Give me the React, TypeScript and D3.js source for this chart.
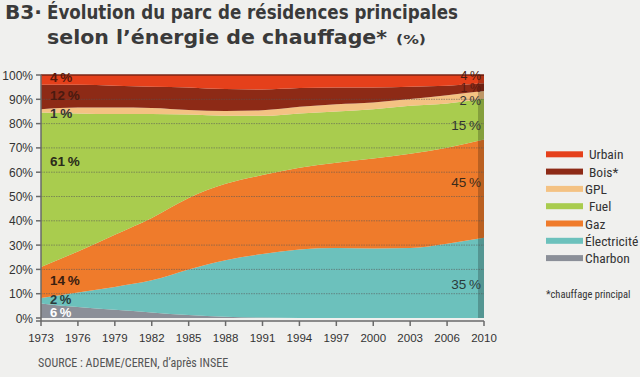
import React from "react";
import * as d3 from "d3";

const years = ["1973", "1976", "1979", "1982", "1985", "1988", "1991", "1994", "1997", "2000", "2003", "2006", "2010"];
const charbon = [6, 4.5, 3.4, 2.3, 1.2, 0.5, 0.2, 0, 0, 0, 0, 0, 0];
const electricite = [2.2, 6, 9.4, 13.2, 18.8, 23.3, 26.1, 28.2, 28.8, 28.6, 28.8, 30.6, 33];
const gaz = [12.8, 16.9, 21.5, 25.7, 29.4, 31.4, 32.5, 33.6, 35.1, 37, 38.8, 39.5, 40.5];
const fuel = [63.6, 56.8, 49.6, 42.7, 34.3, 28, 24.4, 22.4, 21.1, 20.3, 19.7, 18.2, 16.8];
const gpl = [1.3, 2.4, 2.7, 2.5, 1.9, 2, 2.3, 2.7, 3, 2.8, 2.8, 3.4, 3.1];
const bois = [10.1, 9.4, 9.0, 8.8, 9.3, 9.0, 8.5, 7.7, 6.9, 6.2, 5.1, 3.9, 3.2];
const urbain = [4, 4, 4.4, 4.8, 5.1, 5.8, 6, 5.4, 5.1, 5.1, 4.8, 4.4, 3.4];

const seriesNames = ["Charbon", "Électricité", "Gaz", "Fuel", "GPL", "Bois*", "Urbain"];
const seriesValues = [charbon, electricite, gaz, fuel, gpl, bois, urbain];
const seriesColors = ["#8b8f98", "#6cc1bc", "#ef7b2b", "#a9cc4e", "#f4c283", "#8d2a16", "#e5401b"];

const legendOrder = ["Urbain", "Bois*", "GPL", "Fuel", "Gaz", "Électricité", "Charbon"];
const legendIndent = [true, true, false, true, false, false, false];

const yTicks = [0, 10, 20, 30, 40, 50, 60, 70, 80, 90, 100];
const gridValues = [10, 20, 30, 40, 50, 60, 70, 80, 90];

const leftLabels = [
  { text: "4\u2009%", at: 98.8, color: "#5a1a0c", size: 13.5 },
  { text: "12\u2009%", at: 91.4, color: "#4a1a10", size: 13.5 },
  { text: "1\u2009%", at: 84, color: "#333", size: 13.5 },
  { text: "61\u2009%", at: 64.6, color: "#2a2a1a", size: 13.5 },
  { text: "14\u2009%", at: 15.6, color: "#3a2010", size: 13.5 },
  { text: "2\u2009%", at: 7.8, color: "#2a3a3a", size: 13 },
  { text: "6\u2009%", at: 2.3, color: "#ffffff", size: 13 },
];
const rightLabels = [
  { text: "4\u2009%", at: 99.8, color: "#4a1a10", size: 12.5 },
  { text: "1\u2009%", at: 94.8, color: "#5a1a10", size: 12.5 },
  { text: "2\u2009%", at: 89.6, color: "#333", size: 13 },
  { text: "15\u2009%", at: 79, color: "#333", size: 13.5 },
  { text: "45\u2009%", at: 55.6, color: "#3a2a1a", size: 13.5 },
  { text: "35\u2009%", at: 13.6, color: "#2a3a3a", size: 13.5 },
];

const W = 640;
const H = 377;

export default function App() {
  const x = d3.scalePoint<string>().domain(years).range([41, 484]);
  const y = d3.scaleLinear().domain([0, 100]).range([318, 75]);

  const rows = years.map((yr, i) => {
    const r: any = { year: yr };
    seriesNames.forEach((n, k) => (r[n] = seriesValues[k][i]));
    return r;
  });
  const stacked = d3.stack<any>().keys(seriesNames)(rows);
  const area = d3
    .area<any>()
    .x((d) => x(d.data.year) as number)
    .y0((d) => y(d[0]))
    .y1((d) => y(d[1]))
    .curve(d3.curveMonotoneX);

  const x0 = x(years[0]) as number;
  const x1 = x(years[years.length - 1]) as number;
  const font = "'Liberation Sans', Arial, sans-serif";
  const narrow = "'Liberation Sans Narrow', 'Roboto Condensed', 'Liberation Sans', Arial, sans-serif";
  const titleFont = "'DejaVu Sans', 'Liberation Sans', sans-serif";

  return (
    <svg width={W} height={H} style={{ position: "absolute", left: 0, top: 0, background: "#f0f0ee" }}>
      <rect x={0} y={0} width={W} height={H} fill="#f0f0ee" />
      {/* title */}
      <g fill="#3a3a3a" fontFamily={titleFont} fontWeight="bold">
        <text x={5} y={18.5} fontSize={19} textLength={37} lengthAdjust="spacingAndGlyphs">B3·</text>
        <text x={47} y={18.5} fontSize={19} textLength={411} lengthAdjust="spacingAndGlyphs">Évolution du parc de résidences principales</text>
        <text x={47} y={43.5} fontSize={19} textLength={340} lengthAdjust="spacingAndGlyphs">selon l’énergie de chauffage*</text>
        <text x={396} y={43.5} fontSize={13} textLength={30} lengthAdjust="spacingAndGlyphs">(%)</text>
      </g>

      {/* areas */}
      {stacked.map((s, i) => (
        <path key={seriesNames[i]} d={area(s) as string} fill={seriesColors[i]} />
      ))}
      {/* top edge */}
      <line x1={x0} x2={x1} y1={y(100)} y2={y(100)} stroke="#7a2414" strokeWidth={1.5} />
      {/* dark strip at right edge */}
      <rect x={x1 - 6} y={y(100)} width={6} height={y(0) - y(100)} fill="#000" opacity={0.22} />

      {/* gridlines */}
      {gridValues.map((v) => (
        <line key={v} x1={x0} x2={x1} y1={y(v)} y2={y(v)} stroke="#555" strokeOpacity={0.55} strokeWidth={1} strokeDasharray="1.5,1" />
      ))}

      {/* y axis */}
      <line x1={x0} x2={x0} y1={y(0) + 3} y2={y(100)} stroke="#6a6a6a" strokeWidth={1.5} />
      {yTicks.map((v) => (
        <g key={v}>
          <line x1={x0 - 5} x2={x0} y1={y(v)} y2={y(v)} stroke="#6a6a6a" strokeWidth={1.5} />
          <text x={33} y={y(v) + 4.5} textAnchor="end" fontSize={12} fontFamily={font} fill="#333">{v}%</text>
        </g>
      ))}

      {/* x axis */}
      <line x1={x0 - 5} x2={x1} y1={y(0) + 3} y2={y(0) + 3} stroke="#6a6a6a" strokeWidth={1.5} />
      {years.map((yr) => (
        <g key={yr}>
          <line x1={x(yr) as number} x2={x(yr) as number} y1={y(0) + 3} y2={y(0) + 8} stroke="#6a6a6a" strokeWidth={1.5} />
          <text x={x(yr) as number} y={y(0) + 24} textAnchor="middle" fontSize={11.5} fontFamily={font} fill="#333">{yr}</text>
        </g>
      ))}

      {/* in-chart labels */}
      {leftLabels.map((l) => (
        <text key={"l" + l.text + l.at} x={x0 + 9} y={y(l.at) + 4.5} fontSize={l.size} fontFamily={font} fontWeight="bold" fill={l.color}>{l.text}</text>
      ))}
      {rightLabels.map((l) => (
        <text key={"r" + l.text + l.at} x={x1 - 3} y={y(l.at) + 4.3} textAnchor="end" fontSize={l.size} fontFamily={font} fill={l.color}>{l.text}</text>
      ))}

      {/* legend */}
      {legendOrder.map((name, i) => {
        const k = seriesNames.indexOf(name);
        const cy = 154.3 + i * 17.3;
        return (
          <g key={name}>
            <rect x={546} y={cy - 3} width={37} height={6} fill={seriesColors[k]} />
            <text x={legendIndent[i] ? 589 : 585} y={cy + 5} fontSize={13.5} fontFamily={narrow} fill="#333">{name}</text>
          </g>
        );
      })}
      <text x={546} y={298} fontSize={10.5} fontFamily={narrow} fill="#333">*chauffage principal</text>

      {/* source */}
      <text x={38} y={367} fontSize={12} fontFamily={narrow} fill="#555">SOURCE : ADEME/CEREN, d’après INSEE</text>
    </svg>
  );
}
